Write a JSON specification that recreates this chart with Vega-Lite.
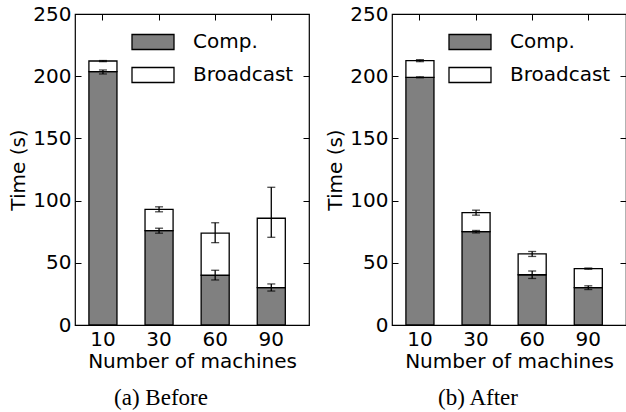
{
  "$schema": "https://vega.github.io/schema/vega-lite/v6.json",
  "padding": {"left": 8, "top": 3, "right": 0, "bottom": 0},
  "spacing": 14,
  "resolve": {"scale": {"fill": "independent"}},
  "hconcat": [
    {
      "width": 234,
      "height": 311,
      "title": {"text": "(a) Before", "orient": "bottom", "font": "Liberation Serif", "fontSize": 23, "fontWeight": "normal", "color": "black", "dx": -31, "offset": 16},
      "data": {"values": [
        {"machines": "10", "part": "Comp.", "ord": 0, "value": 203.6, "lo": 201.8, "hi": 205.0},
        {"machines": "10", "part": "Broadcast", "ord": 1, "value": 8.6, "lo": 211.7, "hi": 212.6},
        {"machines": "30", "part": "Comp.", "ord": 0, "value": 75.8, "lo": 73.8, "hi": 77.8},
        {"machines": "30", "part": "Broadcast", "ord": 1, "value": 17.2, "lo": 91.0, "hi": 95.0},
        {"machines": "60", "part": "Comp.", "ord": 0, "value": 40.0, "lo": 36.2, "hi": 44.0},
        {"machines": "60", "part": "Broadcast", "ord": 1, "value": 33.9, "lo": 66.2, "hi": 82.2},
        {"machines": "90", "part": "Comp.", "ord": 0, "value": 30.0, "lo": 27.3, "hi": 33.0},
        {"machines": "90", "part": "Broadcast", "ord": 1, "value": 55.8, "lo": 70.5, "hi": 110.7}
      ]},
      "layer": [
        {
          "mark": {"type": "bar", "stroke": "black", "strokeWidth": 1.3},
          "encoding": {
            "x": {"field": "machines", "type": "ordinal", "scale": {"paddingInner": 0.5, "paddingOuter": 0.335, "align": 0.37},
                  "axis": {"orient": "bottom", "title": "Number of machines", "labelAngle": 0, "labelPadding": 10, "titlePadding": 2}},
            "y": {"field": "value", "type": "quantitative", "stack": "zero", "scale": {"domain": [0, 250], "nice": false},
                  "axis": {"orient": "left", "title": "Time (s)", "values": [0, 50, 100, 150, 200, 250], "labelPadding": 10, "titlePadding": 4}},
            "fill": {"field": "part", "type": "nominal", "scale": {"domain": ["Comp.", "Broadcast"], "range": ["#808080", "#ffffff"]},
                     "legend": {"orient": "none", "legendX": 56, "legendY": 6, "title": null}},
            "order": {"field": "ord", "type": "quantitative"}
          }
        },
        {
          "mark": {"type": "errorbar", "ticks": true, "size": 8, "thickness": 1.3, "color": "black"},
          "encoding": {
            "x": {"field": "machines", "type": "ordinal", "axis": {"orient": "top", "labels": false, "title": null}},
            "y": {"field": "lo", "type": "quantitative", "axis": {"orient": "right", "labels": false, "title": null, "values": [0, 50, 100, 150, 200, 250]}},
            "y2": {"field": "hi"}
          }
        }
      ],
      "resolve": {"axis": {"x": "independent", "y": "independent"}}
    },
    {
      "width": 234,
      "height": 311,
      "title": {"text": "(b) After", "orient": "bottom", "font": "Liberation Serif", "fontSize": 23, "fontWeight": "normal", "color": "black", "dx": -31, "offset": 16},
      "data": {"values": [
        {"machines": "10", "part": "Comp.", "ord": 0, "value": 199.1, "lo": 198.7, "hi": 199.5},
        {"machines": "10", "part": "Broadcast", "ord": 1, "value": 13.4, "lo": 211.7, "hi": 213.3},
        {"machines": "30", "part": "Comp.", "ord": 0, "value": 75.0, "lo": 74.0, "hi": 76.0},
        {"machines": "30", "part": "Broadcast", "ord": 1, "value": 15.3, "lo": 88.3, "hi": 92.3},
        {"machines": "60", "part": "Comp.", "ord": 0, "value": 40.4, "lo": 37.4, "hi": 43.4},
        {"machines": "60", "part": "Broadcast", "ord": 1, "value": 16.7, "lo": 55.1, "hi": 59.1},
        {"machines": "90", "part": "Comp.", "ord": 0, "value": 30.0, "lo": 28.5, "hi": 31.5},
        {"machines": "90", "part": "Broadcast", "ord": 1, "value": 15.3, "lo": 44.8, "hi": 45.8}
      ]},
      "layer": [
        {
          "mark": {"type": "bar", "stroke": "black", "strokeWidth": 1.3},
          "encoding": {
            "x": {"field": "machines", "type": "ordinal", "scale": {"paddingInner": 0.5, "paddingOuter": 0.335, "align": 0.37},
                  "axis": {"orient": "bottom", "title": "Number of machines", "labelAngle": 0, "labelPadding": 10, "titlePadding": 2}},
            "y": {"field": "value", "type": "quantitative", "stack": "zero", "scale": {"domain": [0, 250], "nice": false},
                  "axis": {"orient": "left", "title": "Time (s)", "values": [0, 50, 100, 150, 200, 250], "labelPadding": 10, "titlePadding": 4}},
            "fill": {"field": "part", "type": "nominal", "scale": {"domain": ["Comp.", "Broadcast"], "range": ["#808080", "#ffffff"]},
                     "legend": {"orient": "none", "legendX": 56, "legendY": 6, "title": null}},
            "order": {"field": "ord", "type": "quantitative"}
          }
        },
        {
          "mark": {"type": "errorbar", "ticks": true, "size": 8, "thickness": 1.3, "color": "black"},
          "encoding": {
            "x": {"field": "machines", "type": "ordinal", "axis": {"orient": "top", "labels": false, "title": null}},
            "y": {"field": "lo", "type": "quantitative", "axis": {"orient": "right", "labels": false, "title": null, "values": [0, 50, 100, 150, 200, 250]}},
            "y2": {"field": "hi"}
          }
        }
      ],
      "resolve": {"axis": {"x": "independent", "y": "independent"}}
    }
  ],
  "config": {
    "font": "DejaVu Sans",
    "background": "white",
    "view": {"stroke": "black", "strokeWidth": 1.2},
    "axis": {
      "labelFont": "DejaVu Sans", "labelFontSize": 20, "labelColor": "black",
      "titleFont": "DejaVu Sans", "titleFontSize": 20, "titleFontWeight": "normal", "titleColor": "black",
      "domain": false, "grid": false, "tickColor": "black", "tickSize": -6, "tickWidth": 1
    },
    "legend": {
      "symbolType": "M-1,-0.357H1V0.357H-1Z", "symbolSize": 1764, "symbolStrokeColor": "black", "symbolStrokeWidth": 1.3,
      "symbolOpacity": 1, "labelFont": "DejaVu Sans", "labelFontSize": 20, "labelColor": "black", "labelOffset": 18, "rowPadding": -13
    }
  }
}
